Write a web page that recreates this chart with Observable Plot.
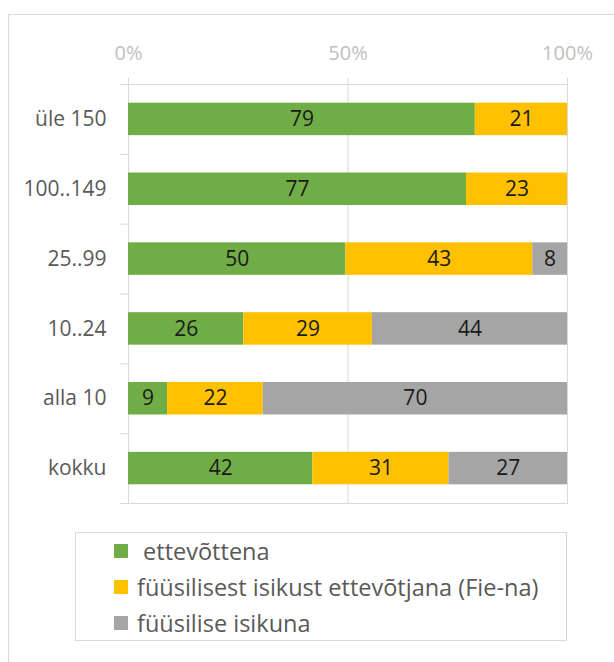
<!DOCTYPE html>
<html><head><meta charset="utf-8">
<script src="https://cdn.jsdelivr.net/npm/d3@7"></script>
<script src="https://cdn.jsdelivr.net/npm/@observablehq/plot@0.6"></script>
<style>
body{margin:0;width:614px;height:662px;overflow:hidden;position:relative;background:#fff;font-family:"Open Sans",sans-serif;}
#border{position:absolute;left:8px;top:14px;width:800px;height:800px;border-left:1px solid #d9d9d9;border-top:1px solid #d9d9d9;}
#chart{position:absolute;left:0;top:0;}
#legend{position:absolute;left:75px;top:532px;width:492px;height:109px;border:1px solid #d9d9d9;box-sizing:border-box;padding-top:0;}
.row{display:flex;align-items:center;height:36px;padding-left:38px;font-size:23.5px;color:#595959;white-space:pre;}
.sw{width:14px;height:14px;margin-right:9px;flex:none;}
</style></head>
<body>
<div id="border"></div>
<div id="chart"></div>
<div id="legend"></div>
<script>
const categories = ["üle 150", "100..149", "25..99", "10..24", "alla 10", "kokku"];
const series = [" ettevõttena", "füüsilisest isikust ettevõtjana (Fie-na)", "füüsilise isikuna"];
const ettevottena = [79, 77, 50, 26, 9, 42];
const fie = [21, 23, 43, 29, 22, 31];
const fyysiline = [0, 0, 8, 44, 70, 27];
const colors = ["#70AD47", "#FFC000", "#A5A5A5"];
const xTicks = [0, 50, 100];

const seriesValues = [ettevottena, fie, fyysiline];
const rows = [];
categories.forEach((c, i) => {
  seriesValues.forEach((vals, j) => {
    if (vals[i] > 0) rows.push({cat: c, series: series[j], value: vals[i]});
  });
});

const H = 515, MT = 84, MB = 12;
const step = (H - MT - MB) / categories.length;

const chart = Plot.plot({
  width: 614, height: H,
  marginLeft: 128, marginRight: 47, marginTop: MT, marginBottom: MB,
  style: {fontFamily: "Open Sans, sans-serif", fontSize: "20px", background: "transparent", overflow: "visible"},
  x: {domain: [0, 1], axis: null, label: null},
  y: {domain: categories, axis: null, label: null, paddingInner: 0.535, paddingOuter: 0.2675, round: false},
  color: {domain: series, range: colors},
  marks: [
    Plot.gridX(xTicks.map(d => d / 100), {stroke: "#d9d9d9", strokeOpacity: 1}),
    Plot.frame({stroke: "#d9d9d9"}),
    Plot.barX(rows, Plot.stackX({x: "value", y: "cat", fill: "series", offset: "normalize", order: series})),
    Plot.text(rows, Plot.stackX({x: "value", y: "cat", z: "series", text: d => String(d.value), offset: "normalize", order: series, fill: "#1a1a1a", fontSize: 21})),
    Plot.axisX(xTicks.map(d => d / 100), {anchor: "top", label: null, tickSize: 7, stroke: "#d9d9d9", strokeOpacity: 1, tickFormat: d => Math.round(d * 100) + "%", fill: "#bfbfbf", fontSize: 20, tickPadding: 18}),
    Plot.axisY({anchor: "left", label: null, tickSize: 0, tickPadding: 22, fill: "#595959", fontSize: 21}),
    Plot.ruleY(categories, {y: d => d, dy: -step / 2, x1: 0, x2: 0, insetLeft: -8, stroke: "#d9d9d9"}),
    Plot.ruleY(categories.slice(-1), {y: d => d, dy: step / 2, x1: 0, x2: 0, insetLeft: -8, stroke: "#d9d9d9"})
  ]
});
document.getElementById("chart").appendChild(chart);

const legend = document.getElementById("legend");
series.forEach((s, j) => {
  const r = document.createElement("div");
  r.className = "row";
  const sw = document.createElement("span");
  sw.className = "sw";
  sw.style.background = colors[j];
  const t = document.createElement("span");
  t.textContent = s;
  r.appendChild(sw); r.appendChild(t);
  legend.appendChild(r);
});
</script>
</body></html>
